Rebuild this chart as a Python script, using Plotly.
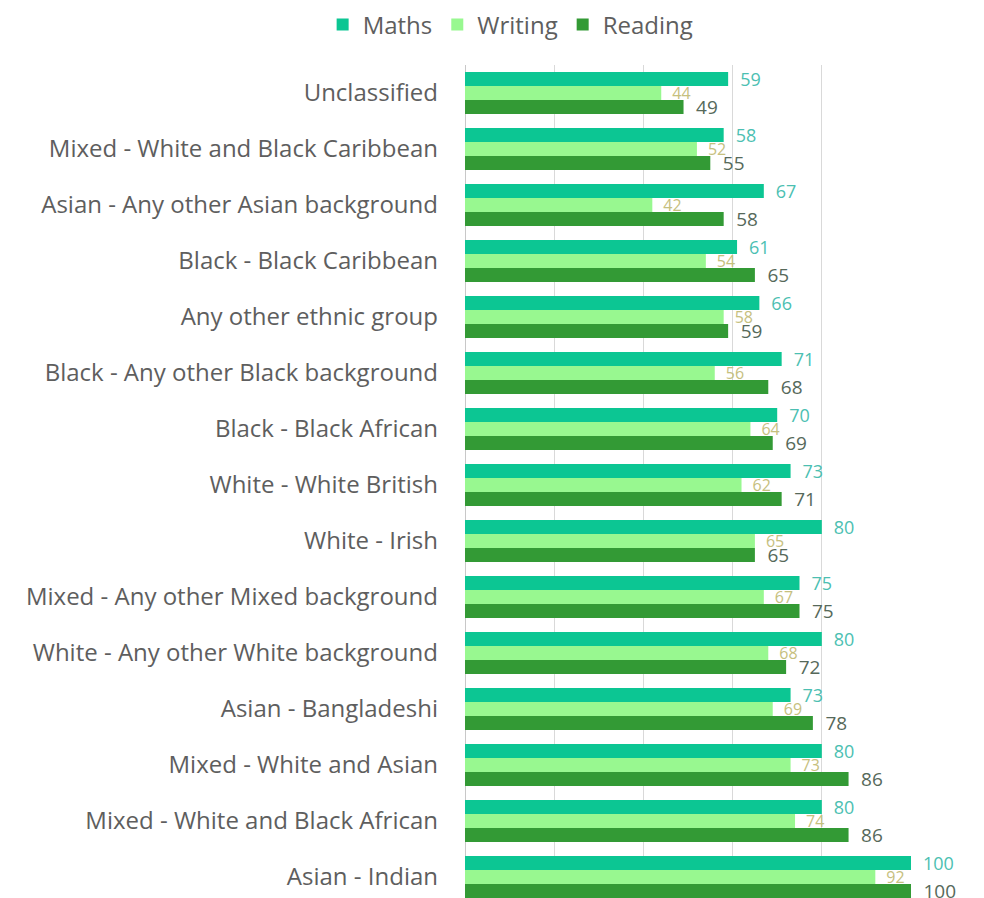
import plotly.graph_objects as go

# categories, top to bottom
groups = [
    "Unclassified",
    "Mixed - White and Black Caribbean",
    "Asian - Any other Asian background",
    "Black - Black Caribbean",
    "Any other ethnic group",
    "Black - Any other Black background",
    "Black - Black African",
    "White - White British",
    "White - Irish",
    "Mixed - Any other Mixed background",
    "White - Any other White background",
    "Asian - Bangladeshi",
    "Mixed - White and Asian",
    "Mixed - White and Black African",
    "Asian - Indian",
]

maths = [59, 58, 67, 61, 66, 71, 70, 73, 80, 75, 80, 73, 80, 80, 100]
writing = [44, 52, 42, 54, 58, 56, 64, 62, 65, 67, 68, 69, 73, 74, 92]
reading = [49, 55, 58, 65, 59, 68, 69, 71, 65, 75, 72, 78, 86, 86, 100]

FONT = "Open Sans, sans-serif"

series = [
    ("Maths", maths, "#0cc693", "#4cbfb2", 18),
    ("Writing", writing, "#98f890", "#c6c07e", 16),
    ("Reading", reading, "#339a35", "#56695a", 19),
]

fig = go.Figure()
for name, vals, color, label_color, label_size in series:
    fig.add_trace(go.Bar(
        y=groups,
        x=vals,
        name=name,
        orientation="h",
        marker=dict(color=color, line=dict(width=0)),
        text=vals,
        texttemplate="\u2002%{x}",
        textposition="outside",
        constraintext="none",
        textfont=dict(color=label_color, size=label_size, family=FONT),
        cliponaxis=False,
    ))

# page body adds an 8px margin, so the figure is a bit smaller than the window
fig.update_layout(
    barmode="group",
    bargap=0.25,
    bargroupgap=0,
    width=976,
    height=890,
    margin=dict(l=457, r=73, t=57, b=0, autoexpand=False),
    plot_bgcolor="white",
    paper_bgcolor="white",
    font=dict(family=FONT, size=24, color="#5e5e5e"),
    legend=dict(
        orientation="h",
        xref="container",
        x=0.515, xanchor="center",
        yref="container",
        y=0.981, yanchor="middle",
        font=dict(size=24, color="#5e5e5e"),
        itemwidth=30,
    ),
    showlegend=True,
)

fig.update_xaxes(
    range=[0, 100],
    dtick=20,
    showticklabels=False,
    showgrid=True,
    gridcolor="#d9d9d9",
    gridwidth=1,
    zeroline=True,
    zerolinecolor="#c8c8c8",
    zerolinewidth=1,
)
fig.update_yaxes(
    categoryorder="array",
    categoryarray=groups,
    range=[14.375, -0.5],
    showgrid=False,
    ticks="",
    ticklabelstandoff=26,
    tickfont=dict(size=24, color="#5e5e5e"),
)

fig.write_html("out.html")
